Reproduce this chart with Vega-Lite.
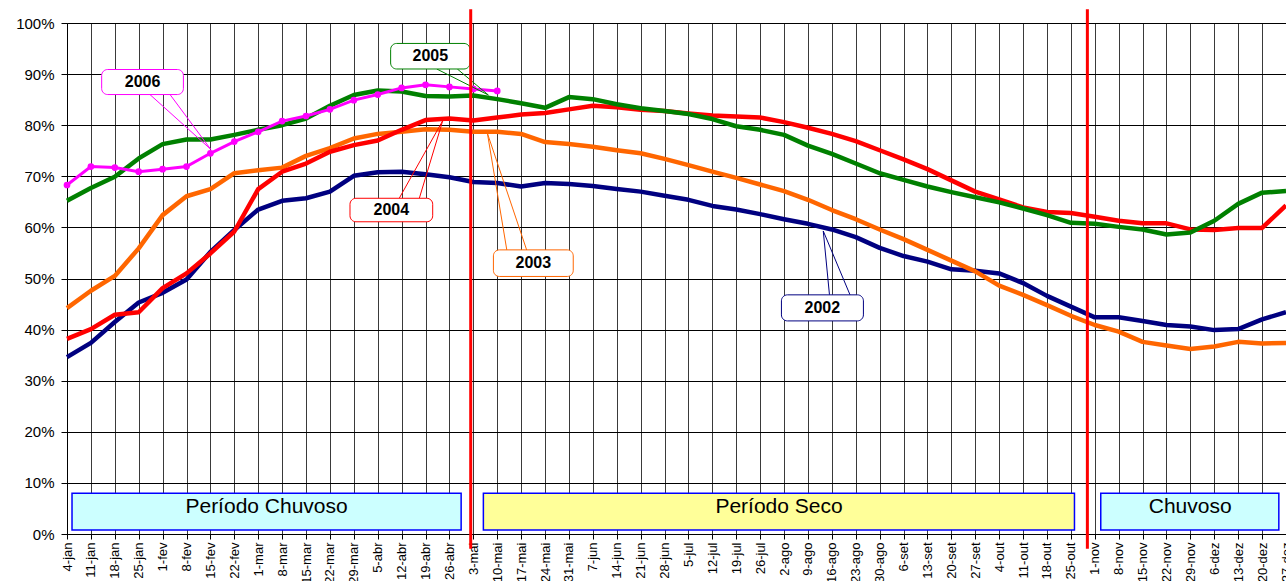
{
  "$schema": "https://vega.github.io/schema/vega-lite/v6.json",
  "width": 1219,
  "height": 511,
  "autosize": {"type": "none"},
  "padding": {"left": 67, "top": 23, "right": 0, "bottom": 47},
  "background": "white",
  "config": {
    "font": "Liberation Sans",
    "view": {"stroke": "#9a9a9a", "strokeWidth": 1},
    "axis": {"domainColor": "#000", "domainWidth": 1, "tickColor": "#000", "labelColor": "#000", "labelFont": "Liberation Sans", "gridOpacity": 1, "labelOverlap": false, "labelFlush": false, "labelBound": false},
    "axisX": {"labelOverlap": false, "labelSeparation": 0, "tickCount": 60, "tickMinStep": 1}
  },
  "datasets": {
    "series": [
      {"semana":0,"ano":"2002","valor":34.6},{"semana":1,"ano":"2002","valor":37.4},{"semana":2,"ano":"2002","valor":41.5},{"semana":3,"ano":"2002","valor":45.3},{"semana":4,"ano":"2002","valor":47.2},{"semana":5,"ano":"2002","valor":49.8},{"semana":6,"ano":"2002","valor":55.2},{"semana":7,"ano":"2002","valor":59.5},{"semana":8,"ano":"2002","valor":63.5},{"semana":9,"ano":"2002","valor":65.2},{"semana":10,"ano":"2002","valor":65.7},{"semana":11,"ano":"2002","valor":67.0},{"semana":12,"ano":"2002","valor":70.1},{"semana":13,"ano":"2002","valor":70.8},{"semana":14,"ano":"2002","valor":70.9},{"semana":15,"ano":"2002","valor":70.4},{"semana":16,"ano":"2002","valor":69.8},{"semana":17,"ano":"2002","valor":68.9},{"semana":18,"ano":"2002","valor":68.7},{"semana":19,"ano":"2002","valor":68.0},{"semana":20,"ano":"2002","valor":68.7},{"semana":21,"ano":"2002","valor":68.5},{"semana":22,"ano":"2002","valor":68.1},{"semana":23,"ano":"2002","valor":67.5},{"semana":24,"ano":"2002","valor":67.0},{"semana":25,"ano":"2002","valor":66.2},{"semana":26,"ano":"2002","valor":65.4},{"semana":27,"ano":"2002","valor":64.2},{"semana":28,"ano":"2002","valor":63.5},{"semana":29,"ano":"2002","valor":62.6},{"semana":30,"ano":"2002","valor":61.6},{"semana":31,"ano":"2002","valor":60.7},{"semana":32,"ano":"2002","valor":59.6},{"semana":33,"ano":"2002","valor":58.1},{"semana":34,"ano":"2002","valor":56.0},{"semana":35,"ano":"2002","valor":54.4},{"semana":36,"ano":"2002","valor":53.3},{"semana":37,"ano":"2002","valor":51.8},{"semana":38,"ano":"2002","valor":51.5},{"semana":39,"ano":"2002","valor":51.0},{"semana":40,"ano":"2002","valor":49.1},{"semana":41,"ano":"2002","valor":46.6},{"semana":42,"ano":"2002","valor":44.5},{"semana":43,"ano":"2002","valor":42.4},{"semana":44,"ano":"2002","valor":42.4},{"semana":45,"ano":"2002","valor":41.7},{"semana":46,"ano":"2002","valor":40.9},{"semana":47,"ano":"2002","valor":40.6},{"semana":48,"ano":"2002","valor":39.9},{"semana":49,"ano":"2002","valor":40.1},{"semana":50,"ano":"2002","valor":42.0},{"semana":51,"ano":"2002","valor":43.4},
      {"semana":0,"ano":"2003","valor":44.2},{"semana":1,"ano":"2003","valor":47.6},{"semana":2,"ano":"2003","valor":50.5},{"semana":3,"ano":"2003","valor":55.9},{"semana":4,"ano":"2003","valor":62.4},{"semana":5,"ano":"2003","valor":66.1},{"semana":6,"ano":"2003","valor":67.5},{"semana":7,"ano":"2003","valor":70.6},{"semana":8,"ano":"2003","valor":71.2},{"semana":9,"ano":"2003","valor":71.7},{"semana":10,"ano":"2003","valor":74.0},{"semana":11,"ano":"2003","valor":75.5},{"semana":12,"ano":"2003","valor":77.4},{"semana":13,"ano":"2003","valor":78.3},{"semana":14,"ano":"2003","valor":78.7},{"semana":15,"ano":"2003","valor":79.2},{"semana":16,"ano":"2003","valor":79.1},{"semana":17,"ano":"2003","valor":78.7},{"semana":18,"ano":"2003","valor":78.7},{"semana":19,"ano":"2003","valor":78.3},{"semana":20,"ano":"2003","valor":76.7},{"semana":21,"ano":"2003","valor":76.3},{"semana":22,"ano":"2003","valor":75.8},{"semana":23,"ano":"2003","valor":75.1},{"semana":24,"ano":"2003","valor":74.5},{"semana":25,"ano":"2003","valor":73.4},{"semana":26,"ano":"2003","valor":72.2},{"semana":27,"ano":"2003","valor":70.9},{"semana":28,"ano":"2003","valor":69.7},{"semana":29,"ano":"2003","valor":68.4},{"semana":30,"ano":"2003","valor":67.1},{"semana":31,"ano":"2003","valor":65.4},{"semana":32,"ano":"2003","valor":63.4},{"semana":33,"ano":"2003","valor":61.6},{"semana":34,"ano":"2003","valor":59.6},{"semana":35,"ano":"2003","valor":57.7},{"semana":36,"ano":"2003","valor":55.6},{"semana":37,"ano":"2003","valor":53.5},{"semana":38,"ano":"2003","valor":51.4},{"semana":39,"ano":"2003","valor":48.6},{"semana":40,"ano":"2003","valor":46.8},{"semana":41,"ano":"2003","valor":44.8},{"semana":42,"ano":"2003","valor":42.7},{"semana":43,"ano":"2003","valor":40.9},{"semana":44,"ano":"2003","valor":39.6},{"semana":45,"ano":"2003","valor":37.6},{"semana":46,"ano":"2003","valor":36.9},{"semana":47,"ano":"2003","valor":36.2},{"semana":48,"ano":"2003","valor":36.7},{"semana":49,"ano":"2003","valor":37.6},{"semana":50,"ano":"2003","valor":37.3},{"semana":51,"ano":"2003","valor":37.4},
      {"semana":0,"ano":"2004","valor":38.2},{"semana":1,"ano":"2004","valor":40.1},{"semana":2,"ano":"2004","valor":42.9},{"semana":3,"ano":"2004","valor":43.4},{"semana":4,"ano":"2004","valor":48.1},{"semana":5,"ano":"2004","valor":51.0},{"semana":6,"ano":"2004","valor":54.9},{"semana":7,"ano":"2004","valor":59.2},{"semana":8,"ano":"2004","valor":67.5},{"semana":9,"ano":"2004","valor":70.9},{"semana":10,"ano":"2004","valor":72.5},{"semana":11,"ano":"2004","valor":74.8},{"semana":12,"ano":"2004","valor":76.1},{"semana":13,"ano":"2004","valor":77.0},{"semana":14,"ano":"2004","valor":79.1},{"semana":15,"ano":"2004","valor":81.0},{"semana":16,"ano":"2004","valor":81.3},{"semana":17,"ano":"2004","valor":80.9},{"semana":18,"ano":"2004","valor":81.5},{"semana":19,"ano":"2004","valor":82.1},{"semana":20,"ano":"2004","valor":82.4},{"semana":21,"ano":"2004","valor":83.1},{"semana":22,"ano":"2004","valor":83.8},{"semana":23,"ano":"2004","valor":83.5},{"semana":24,"ano":"2004","valor":83.0},{"semana":25,"ano":"2004","valor":82.8},{"semana":26,"ano":"2004","valor":82.3},{"semana":27,"ano":"2004","valor":81.9},{"semana":28,"ano":"2004","valor":81.7},{"semana":29,"ano":"2004","valor":81.5},{"semana":30,"ano":"2004","valor":80.6},{"semana":31,"ano":"2004","valor":79.5},{"semana":32,"ano":"2004","valor":78.3},{"semana":33,"ano":"2004","valor":76.9},{"semana":34,"ano":"2004","valor":75.1},{"semana":35,"ano":"2004","valor":73.3},{"semana":36,"ano":"2004","valor":71.4},{"semana":37,"ano":"2004","valor":69.2},{"semana":38,"ano":"2004","valor":67.0},{"semana":39,"ano":"2004","valor":65.5},{"semana":40,"ano":"2004","valor":63.9},{"semana":41,"ano":"2004","valor":63.0},{"semana":42,"ano":"2004","valor":62.8},{"semana":43,"ano":"2004","valor":62.1},{"semana":44,"ano":"2004","valor":61.3},{"semana":45,"ano":"2004","valor":60.8},{"semana":46,"ano":"2004","valor":60.8},{"semana":47,"ano":"2004","valor":59.6},{"semana":48,"ano":"2004","valor":59.5},{"semana":49,"ano":"2004","valor":59.9},{"semana":50,"ano":"2004","valor":59.9},{"semana":51,"ano":"2004","valor":64.3},
      {"semana":0,"ano":"2005","valor":65.2},{"semana":1,"ano":"2005","valor":67.7},{"semana":2,"ano":"2005","valor":69.9},{"semana":3,"ano":"2005","valor":73.5},{"semana":4,"ano":"2005","valor":76.3},{"semana":5,"ano":"2005","valor":77.2},{"semana":6,"ano":"2005","valor":77.2},{"semana":7,"ano":"2005","valor":78.1},{"semana":8,"ano":"2005","valor":79.1},{"semana":9,"ano":"2005","valor":80.0},{"semana":10,"ano":"2005","valor":81.3},{"semana":11,"ano":"2005","valor":83.8},{"semana":12,"ano":"2005","valor":85.9},{"semana":13,"ano":"2005","valor":86.8},{"semana":14,"ano":"2005","valor":86.6},{"semana":15,"ano":"2005","valor":85.7},{"semana":16,"ano":"2005","valor":85.6},{"semana":17,"ano":"2005","valor":85.8},{"semana":18,"ano":"2005","valor":85.1},{"semana":19,"ano":"2005","valor":84.3},{"semana":20,"ano":"2005","valor":83.4},{"semana":21,"ano":"2005","valor":85.5},{"semana":22,"ano":"2005","valor":85.1},{"semana":23,"ano":"2005","valor":84.1},{"semana":24,"ano":"2005","valor":83.3},{"semana":25,"ano":"2005","valor":82.8},{"semana":26,"ano":"2005","valor":82.2},{"semana":27,"ano":"2005","valor":81.2},{"semana":28,"ano":"2005","valor":79.8},{"semana":29,"ano":"2005","valor":79.1},{"semana":30,"ano":"2005","valor":78.1},{"semana":31,"ano":"2005","valor":76.0},{"semana":32,"ano":"2005","valor":74.4},{"semana":33,"ano":"2005","valor":72.5},{"semana":34,"ano":"2005","valor":70.6},{"semana":35,"ano":"2005","valor":69.3},{"semana":36,"ano":"2005","valor":68.0},{"semana":37,"ano":"2005","valor":66.9},{"semana":38,"ano":"2005","valor":65.9},{"semana":39,"ano":"2005","valor":64.9},{"semana":40,"ano":"2005","valor":63.7},{"semana":41,"ano":"2005","valor":62.4},{"semana":42,"ano":"2005","valor":60.9},{"semana":43,"ano":"2005","valor":60.7},{"semana":44,"ano":"2005","valor":60.1},{"semana":45,"ano":"2005","valor":59.6},{"semana":46,"ano":"2005","valor":58.6},{"semana":47,"ano":"2005","valor":59.0},{"semana":48,"ano":"2005","valor":61.3},{"semana":49,"ano":"2005","valor":64.6},{"semana":50,"ano":"2005","valor":66.8},{"semana":51,"ano":"2005","valor":67.1},
      {"semana":0,"ano":"2006","valor":68.3},{"semana":1,"ano":"2006","valor":71.9},{"semana":2,"ano":"2006","valor":71.7},{"semana":3,"ano":"2006","valor":70.9},{"semana":4,"ano":"2006","valor":71.4},{"semana":5,"ano":"2006","valor":71.9},{"semana":6,"ano":"2006","valor":74.5},{"semana":7,"ano":"2006","valor":76.8},{"semana":8,"ano":"2006","valor":78.7},{"semana":9,"ano":"2006","valor":80.8},{"semana":10,"ano":"2006","valor":81.8},{"semana":11,"ano":"2006","valor":83.1},{"semana":12,"ano":"2006","valor":84.9},{"semana":13,"ano":"2006","valor":86.0},{"semana":14,"ano":"2006","valor":87.3},{"semana":15,"ano":"2006","valor":87.9},{"semana":16,"ano":"2006","valor":87.5},{"semana":17,"ano":"2006","valor":87.1},{"semana":18,"ano":"2006","valor":86.7}
    ],
    "periodos": [
      {"inicio":0.21,"fim":16.49,"tipo":"chuvoso","rotulo":"Período Chuvoso","centro":8.35},
      {"inicio":17.42,"fim":42.15,"tipo":"seco","rotulo":"Período Seco","centro":29.79},
      {"inicio":43.25,"fim":50.7,"tipo":"chuvoso","rotulo":"Chuvoso","centro":46.99}
    ],
    "divisas": [{"semana":16.89},{"semana":42.69}],
    "caixas": [
      {"ano":"2006","x1":1.45,"x2":4.87,"y1":86.0,"y2":90.9,"cx":3.16,"cy":88.4},
      {"ano":"2005","x1":13.54,"x2":16.86,"y1":91.0,"y2":96.0,"cx":15.2,"cy":93.5},
      {"ano":"2004","x1":11.84,"x2":15.3,"y1":61.1,"y2":65.7,"cx":13.57,"cy":63.4},
      {"ano":"2003","x1":17.84,"x2":21.18,"y1":50.4,"y2":55.6,"cx":19.51,"cy":53.0},
      {"ano":"2002","x1":29.89,"x2":33.32,"y1":41.7,"y2":46.8,"cx":31.6,"cy":44.2}
    ],
    "ponteiros": [
      {"ano":"2006","xa":3.47,"ya":86.0,"xb":6.01,"yb":75.3},
      {"ano":"2006","xa":4.31,"ya":86.0,"xb":6.01,"yb":75.3},
      {"ano":"2005","xa":15.47,"ya":91.0,"xb":17.63,"yb":85.9},
      {"ano":"2005","xa":16.33,"ya":91.0,"xb":17.63,"yb":85.9},
      {"ano":"2004","xa":13.9,"ya":65.7,"xb":15.72,"yb":80.9},
      {"ano":"2004","xa":14.74,"ya":65.7,"xb":15.72,"yb":80.9},
      {"ano":"2003","xa":18.4,"ya":55.6,"xb":17.59,"yb":78.4},
      {"ano":"2003","xa":19.23,"ya":55.6,"xb":17.59,"yb":78.4},
      {"ano":"2002","xa":31.9,"ya":46.8,"xb":31.64,"yb":59.3},
      {"ano":"2002","xa":32.76,"ya":46.8,"xb":31.64,"yb":59.3}
    ]
  },
  "layer": [
    {
      "data": {"name": "series"},
      "transform": [{"filter": "datum.ano != '2006'"}],
      "mark": {"type": "line", "strokeWidth": 4.5, "strokeJoin": "round"},
      "encoding": {
        "x": {"field": "semana", "type": "quantitative", "title": null,
          "scale": {"domain": [0, 51], "nice": false, "zero": false},
          "axis": {
            "values": [0,1,2,3,4,5,6,7,8,9,10,11,12,13,14,15,16,17,18,19,20,21,22,23,24,25,26,27,28,29,30,31,32,33,34,35,36,37,38,39,40,41,42,43,44,45,46,47,48,49,50,51],
            "tickCount": 60, "tickMinStep": 1,
            "labelExpr": "['4-jan','11-jan','18-jan','25-jan','1-fev','8-fev','15-fev','22-fev','1-mar','8-mar','15-mar','22-mar','29-mar','5-abr','12-abr','19-abr','26-abr','3-mai','10-mai','17-mai','24-mai','31-mai','7-jun','14-jun','21-jun','28-jun','5-jul','12-jul','19-jul','26-jul','2-ago','9-ago','16-ago','23-ago','30-ago','6-set','13-set','20-set','27-set','4-out','11-out','18-out','25-out','1-nov','8-nov','15-nov','22-nov','29-nov','6-dez','13-dez','20-dez','27-dez'][round(datum.value)]",
            "labelAngle": -90, "labelFontSize": 13, "labelPadding": 3, "tickSize": 5,
            "labelOverlap": false, "labelFlush": false, "labelBound": false, "labelSeparation": 0,
            "grid": true, "gridColor": "#3a3a3a", "gridWidth": 1
          }
        },
        "y": {"field": "valor", "type": "quantitative", "title": null,
          "scale": {"domain": [0, 100], "nice": false, "zero": false},
          "axis": {
            "values": [0,10,20,30,40,50,60,70,80,90,100],
            "labelExpr": "datum.value + '%'",
            "labelFontSize": 15, "labelPadding": 7, "tickSize": 6,
            "labelOverlap": false, "labelFlush": false,
            "grid": true, "gridColor": "#000", "gridWidth": 1
          }
        },
        "color": {"field": "ano", "type": "nominal", "legend": null,
          "scale": {"domain": ["2002","2003","2004","2005","2006"], "range": ["#000080","#FF6600","#FF0000","#008000","#FF00FF"]}},
        "order": {"field": "semana", "type": "quantitative"}
      }
    },
    {
      "data": {"name": "series"},
      "transform": [{"filter": "datum.ano == '2006'"}],
      "mark": {"type": "line", "strokeWidth": 3, "point": {"filled": true, "size": 45}},
      "encoding": {
        "x": {"field": "semana", "type": "quantitative", "title": null},
        "y": {"field": "valor", "type": "quantitative", "title": null},
        "color": {"field": "ano", "type": "nominal", "legend": null}
      }
    },
    {
      "data": {"name": "periodos"},
      "mark": {"type": "rect", "stroke": "#0000FF", "strokeWidth": 1.5},
      "encoding": {
        "x": {"field": "inicio", "type": "quantitative", "title": null},
        "x2": {"field": "fim"},
        "y": {"datum": 0.8, "type": "quantitative", "title": null},
        "y2": {"datum": 7.96},
        "fill": {"field": "tipo", "type": "nominal", "legend": null,
          "scale": {"domain": ["chuvoso","seco"], "range": ["#CCFFFF","#FFFF99"]}}
      }
    },
    {
      "data": {"name": "periodos"},
      "mark": {"type": "text", "fontSize": 21, "font": "Liberation Sans", "color": "#000", "align": "center", "baseline": "middle"},
      "encoding": {
        "x": {"field": "centro", "type": "quantitative", "title": null},
        "y": {"datum": 5.2, "type": "quantitative", "title": null},
        "text": {"field": "rotulo"}
      }
    },
    {
      "data": {"name": "ponteiros"},
      "mark": {"type": "rule", "strokeWidth": 1},
      "encoding": {
        "x": {"field": "xa", "type": "quantitative", "title": null},
        "y": {"field": "ya", "type": "quantitative", "title": null},
        "x2": {"field": "xb"},
        "y2": {"field": "yb"},
        "color": {"field": "ano", "type": "nominal", "legend": null}
      }
    },
    {
      "data": {"name": "caixas"},
      "mark": {"type": "rect", "fill": "white", "strokeWidth": 1, "cornerRadius": 6},
      "encoding": {
        "x": {"field": "x1", "type": "quantitative", "title": null},
        "x2": {"field": "x2"},
        "y": {"field": "y1", "type": "quantitative", "title": null},
        "y2": {"field": "y2"},
        "stroke": {"field": "ano", "type": "nominal", "legend": null,
          "scale": {"domain": ["2002","2003","2004","2005","2006"], "range": ["#000080","#FF6600","#FF0000","#008000","#FF00FF"]}}
      }
    },
    {
      "data": {"name": "caixas"},
      "mark": {"type": "text", "fontSize": 16, "fontWeight": "bold", "font": "Liberation Sans", "color": "#000", "align": "center", "baseline": "middle"},
      "encoding": {
        "x": {"field": "cx", "type": "quantitative", "title": null},
        "y": {"field": "cy", "type": "quantitative", "title": null},
        "text": {"field": "ano"}
      }
    },
    {
      "data": {"name": "divisas"},
      "mark": {"type": "rule", "color": "#FF0000", "strokeWidth": 3},
      "encoding": {
        "x": {"field": "semana", "type": "quantitative", "title": null},
        "y": {"datum": 102.7, "type": "quantitative"},
        "y2": {"datum": -2.9}
      }
    }
  ]
}
